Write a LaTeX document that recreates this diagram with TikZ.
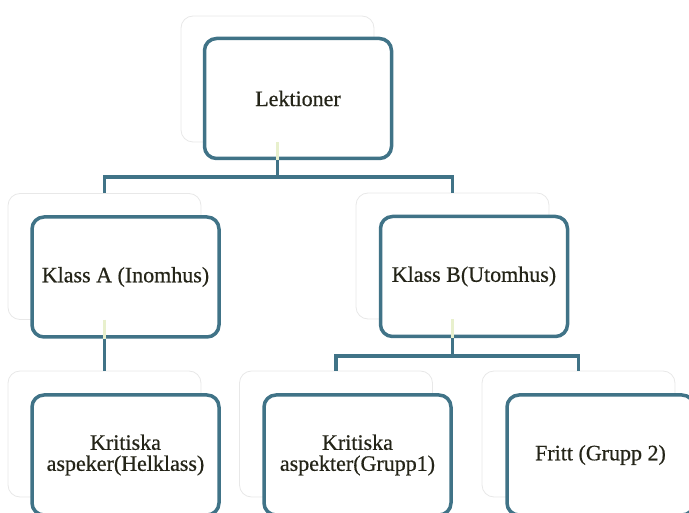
\documentclass[tikz,border=0pt]{standalone}
\usepackage{fontspec}
\setmainfont{Liberation Serif}
\newfontfamily\boxfont{Liberation Serif}[FakeBold=0.6]
\definecolor{boxc}{RGB}{64,115,135}
\definecolor{stubc}{RGB}{232,240,205}
\definecolor{txtc}{RGB}{36,36,24}
\definecolor{shadc}{RGB}{232,232,232}
\begin{document}
\begin{tikzpicture}[x=1pt,y=-1pt,
  shadowbox/.style={draw=shadc, fill=white, rounded corners=12pt, minimum width=193pt, minimum height=126pt, line width=0.8pt, inner sep=0pt},
  frontbox/.style={draw=boxc, fill=white, rounded corners=12pt, minimum width=187pt, minimum height=120pt, line width=3.5pt, text=txtc, align=center, inner sep=0pt, font=\boxfont\fontsize{22pt}{21pt}\selectfont},
  conn/.style={draw=boxc, line width=3.5pt},
  stub/.style={draw=stubc, line width=3.5pt}]
\useasboundingbox (0,0) rectangle (689,513);
\clip (0,0) rectangle (689,513);
% shadow boxes
\node[shadowbox] (ls) at (277.5,79) {};
\node[shadowbox] (kas) at (104.5,256.5) {};
\node[shadowbox] (kbs) at (452.5,256) {};
\node[shadowbox] (hs) at (104.5,434) {};
\node[shadowbox] (g1s) at (336,434) {};
\node[shadowbox] (fs) at (578.5,434) {};
% front boxes
\node[frontbox] (lf) at ([shift={(20.5,19.5)}]ls.center) {Lektioner};
\node[frontbox] (kaf) at ([shift={(21,20.5)}]kas.center) {Klass A (Inomhus)};
\node[frontbox] (kbf) at ([shift={(21.5,20.5)}]kbs.center) {Klass B(Utomhus)};
\node[frontbox] (hf) at ([shift={(21,21)}]hs.center) {Kritiska\\aspeker(Helklass)};
\node[frontbox] (g1f) at ([shift={(21.5,21)}]g1s.center) {Kritiska\\aspekter(Grupp1)};
\node[frontbox] (ff) at ([shift={(22,21)}]fs.center) {Fritt (Grupp 2)};
% bus coordinates
\coordinate (j1) at (277.5,177);
\coordinate (j2) at (452.5,356);
% connectors
\draw[stub] (ls.south) -- (ls.south |- lf.south);
\draw[conn] (ls.south |- lf.south) -- (j1);
\draw[conn] (kas.north) |- (j1) -| (kbs.north);
\draw[stub] (kas.south) -- (kas.south |- kaf.south);
\draw[conn] (kas.south |- kaf.south) -- (hs.north);
\draw[stub] (kbs.south) -- (kbs.south |- kbf.south);
\draw[conn] (kbs.south |- kbf.south) -- (j2);
\draw[conn] (g1s.north) |- (j2) -| (fs.north);
\end{tikzpicture}
\end{document}
